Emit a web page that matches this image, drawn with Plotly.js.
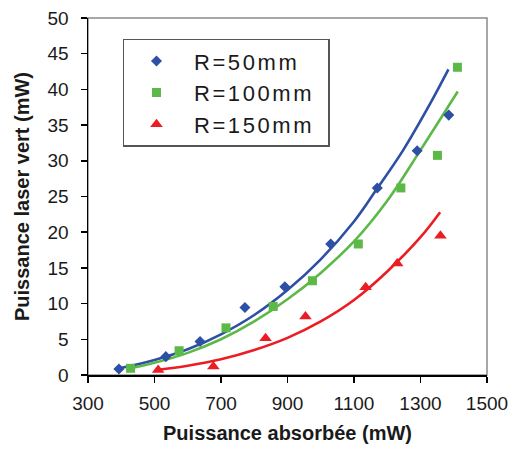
<!DOCTYPE html>
<html>
<head>
<meta charset="utf-8">
<script src="https://cdn.plot.ly/plotly-3.0.1.min.js"></script>
<style>
html,body{margin:0;padding:0;background:#fff;}
#chart{width:510px;height:449px;}
.legendtext{letter-spacing:2.6px;}
</style>
</head>
<body>
<div id="chart"></div>
<script>
// Measured points
const names = ['R=50mm', 'R=100mm', 'R=150mm'];
const x50 = [393, 534, 637, 772, 892, 1030, 1170, 1290, 1385];
const y50 = [0.84, 2.57, 4.68, 9.45, 12.36, 18.35, 26.2, 31.4, 36.4];
const x100 = [428, 574, 715, 857, 975, 1113, 1241, 1351, 1411];
const y100 = [0.94, 3.4, 6.6, 9.6, 13.2, 18.35, 26.2, 30.76, 43.1];
const x150 = [511, 677, 834, 954, 1135, 1230, 1360];
const y150 = [0.7, 1.2, 5.15, 8.2, 12.3, 15.6, 19.5];

// Trend curves
const fx50 = [395, 500, 600, 700, 800, 900, 1000, 1100, 1168, 1248, 1329, 1384];
const fy50 = [0.95, 2.1, 3.6, 5.7, 8.4, 11.9, 16.2, 21.5, 26.0, 31.5, 38.0, 42.8];
const fx100 = [421, 500, 600, 700, 800, 900, 1000, 1100, 1200, 1300, 1412];
const fy100 = [0.85, 1.7, 3.1, 5.0, 7.5, 10.6, 14.3, 18.7, 24.4, 31.5, 39.7];
const fx150 = [506, 600, 700, 800, 900, 1000, 1100, 1200, 1300, 1359];
const fy150 = [0.7, 1.3, 2.2, 3.5, 5.2, 7.5, 10.5, 14.5, 19.3, 22.8];

const xTicks = [300, 500, 700, 900, 1100, 1300, 1500];
const yTicks = [0, 5, 10, 15, 20, 25, 30, 35, 40, 45, 50];

const cBlue = '#2D4FA4', cGreen = '#5DB947', cRed = '#EC1C24';
const FONT = 'Liberation Sans, Arial, sans-serif';
const NB = '\u00A0';
const pad = s => NB + NB + s + NB;

const traces = [
  {x: fx50, y: fy50, mode: 'lines', line: {color: cBlue, width: 2.6, shape: 'spline'}, showlegend: false, hoverinfo: 'skip'},
  {x: fx100, y: fy100, mode: 'lines', line: {color: cGreen, width: 2.6, shape: 'spline'}, showlegend: false, hoverinfo: 'skip'},
  {x: fx150, y: fy150, mode: 'lines', line: {color: cRed, width: 2.6, shape: 'spline'}, showlegend: false, hoverinfo: 'skip'},
  {x: x50, y: y50, name: pad(names[0]), mode: 'markers', marker: {symbol: 'diamond', size: 8.5, color: cBlue}},
  {x: x100, y: y100, name: pad(names[1]), mode: 'markers', marker: {symbol: 'square', size: 9, color: cGreen}},
  {x: x150, y: y150, name: pad(names[2]), mode: 'markers', marker: {symbol: 'triangle-up', size: 11, color: cRed}}
];

const layout = {
  width: 510, height: 449,
  margin: {l: 88, r: 23, t: 18, b: 74},
  paper_bgcolor: '#fff', plot_bgcolor: '#fff',
  font: {family: FONT, color: '#1a1a1a', size: 19},
  showlegend: true,
  legend: {
    x: 0.0877, y: 0.942, xanchor: 'left', yanchor: 'top',
    bordercolor: '#555', borderwidth: 1.5, bgcolor: '#fff',
    font: {family: FONT, size: 22, color: '#1a1a1a'},
    indentation: 12
  },
  xaxis: {
    range: [300, 1500], tickvals: xTicks, ticktext: xTicks.map(String),
    showgrid: false, zeroline: false, showline: true, linecolor: '#000', linewidth: 1.5,
    ticks: 'outside', ticklen: 6, tickwidth: 1.5, tickcolor: '#000',
    ticklabelstandoff: 5,
    tickfont: {family: FONT, size: 19, color: '#1a1a1a'},
    title: {text: 'Puissance absorbée (mW)', font: {family: FONT, size: 20, color: '#1a1a1a', weight: 'bold'}, standoff: 12}
  },
  yaxis: {
    range: [0, 50], tickvals: yTicks, ticktext: yTicks.map(String),
    showgrid: false, zeroline: false, showline: true, linecolor: '#000', linewidth: 1.5,
    ticks: 'outside', ticklen: 6, tickwidth: 1.5, tickcolor: '#000',
    ticklabelstandoff: 8,
    tickfont: {family: FONT, size: 19, color: '#1a1a1a'},
    title: {text: 'Puissance laser vert (mW)', font: {family: FONT, size: 20, color: '#1a1a1a', weight: 'bold'}, standoff: 12}
  },
  shapes: [
    {type: 'rect', xref: 'paper', yref: 'paper', x0: 0, x1: 1, y0: 0, y1: 1,
     line: {color: '#8a8a8a', width: 1.5}, layer: 'below'}
  ]
};

Plotly.newPlot('chart', traces, layout, {displayModeBar: false, staticPlot: true});
</script>
</body>
</html>
